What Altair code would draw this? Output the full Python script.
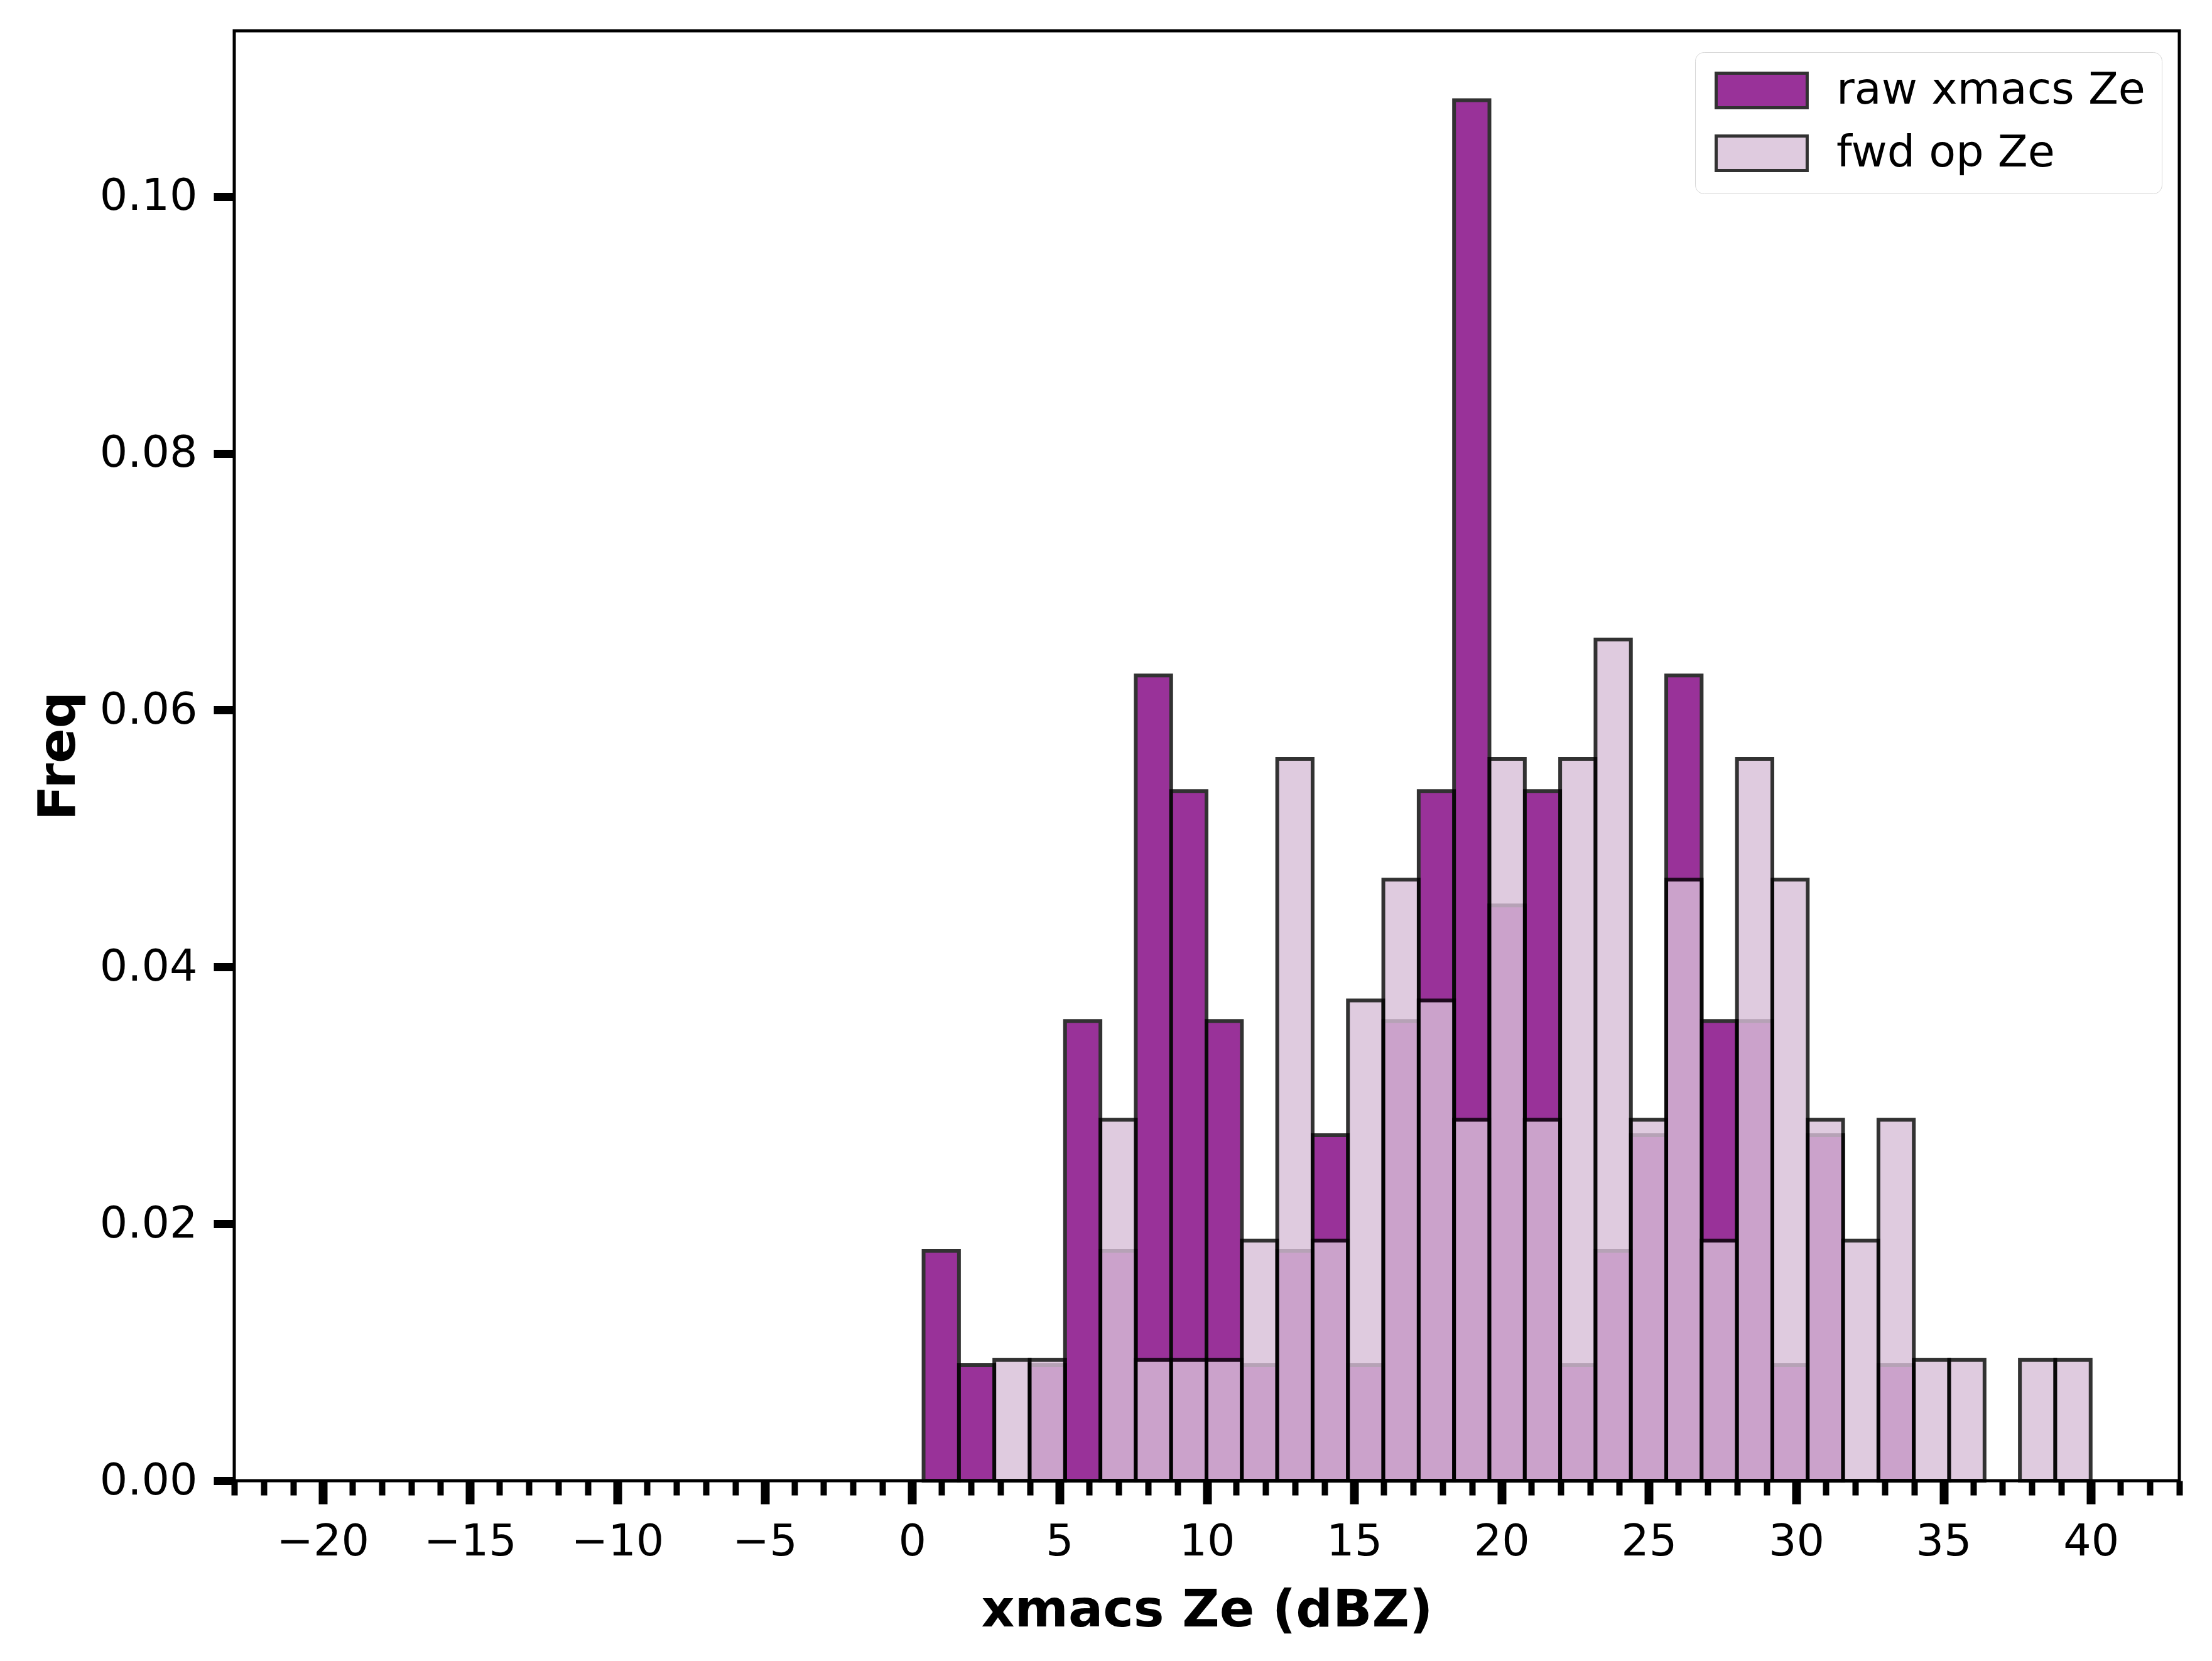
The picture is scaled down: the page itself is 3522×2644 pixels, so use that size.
import altair as alt
import pandas as pd

# bin edges (dBZ)
bin_edges = [0.39, 1.59, 2.79, 3.99, 5.19, 6.39, 7.59, 8.79, 9.99, 11.19, 12.39,
             13.59, 14.79, 15.99, 17.19, 18.39, 19.59, 20.79, 21.99, 23.19, 24.39,
             25.59, 26.79, 27.99, 29.19, 30.39, 31.59, 32.79, 33.99, 35.19, 36.39,
             37.59, 38.79, 39.99]

raw_freq = [0.0179, 0.0090, 0.0, 0.0090, 0.0358, 0.0179, 0.0627, 0.0537, 0.0358,
            0.0090, 0.0179, 0.0269, 0.0090, 0.0358, 0.0537, 0.1075, 0.0448, 0.0537,
            0.0090, 0.0179, 0.0269, 0.0627, 0.0358, 0.0358, 0.0090, 0.0269, 0.0,
            0.0090, 0.0, 0.0, 0.0, 0.0, 0.0]

fwd_freq = [0.0, 0.0, 0.0094, 0.0094, 0.0, 0.0281, 0.0094, 0.0094, 0.0094, 0.0187,
            0.0562, 0.0187, 0.0374, 0.0468, 0.0374, 0.0281, 0.0562, 0.0281, 0.0562,
            0.0655, 0.0281, 0.0468, 0.0187, 0.0562, 0.0468, 0.0281, 0.0187, 0.0281,
            0.0094, 0.0094, 0.0, 0.0094, 0.0094]

series_names = ["raw xmacs Ze", "fwd op Ze"]
series_colors = ["purple", "thistle"]

y_ticks = [0.0, 0.02, 0.04, 0.06, 0.08, 0.10]
x_ticks = list(range(-23, 44))

rows = []
for name, freqs in zip(series_names, [raw_freq, fwd_freq]):
    for i, f in enumerate(freqs):
        if f > 0:
            rows.append({"series": name, "lo": bin_edges[i], "hi": bin_edges[i + 1], "freq": f})
df = pd.DataFrame(rows)

FONT = "DejaVu Sans"

color = alt.Color(
    "series:N",
    scale=alt.Scale(domain=series_names, range=series_colors),
    legend=alt.Legend(
        title=None,
        orient="none",
        legendX=2326,
        legendY=34,
        labelFontSize=70,
        labelFont=FONT,
        labelColor="black",
        symbolType="M-1,-1H4.27V1H-1Z",
        symbolSize=3025,
        symbolStrokeColor="black",
        symbolStrokeWidth=5,
        symbolOpacity=0.8,
        labelOffset=129,
        rowPadding=24,
        padding=26,
        fillColor="white",
        strokeColor="#d6d6d6",
        cornerRadius=14,
        labelLimit=1000,
    ),
)

x_enc = alt.X(
    "lo:Q",
    scale=alt.Scale(domain=[-23, 43], nice=False, zero=False),
    axis=alt.Axis(
        title="xmacs Ze (dBZ)",
        values=x_ticks,
        labelExpr="datum.value % 5 === 0 ? datum.label : ''",
        tickSize={"condition": {"test": "datum.value % 5 === 0", "value": 37}, "value": 23},
        tickWidth={"condition": {"test": "datum.value % 5 === 0", "value": 14}, "value": 10},
        labelPadding=26,
        labelFlush=False,
        labelOverlap=False,
        titlePadding=34,
        grid=False,
        domain=False,
    ),
)

y_enc = alt.Y(
    "freq:Q",
    scale=alt.Scale(domain=[0, 0.1129], nice=False),
    axis=alt.Axis(
        title="Freq",
        values=y_ticks,
        format=".2f",
        tickSize=33,
        tickWidth=13,
        labelPadding=26,
        titlePadding=38,
        grid=False,
        domain=False,
    ),
)

base = alt.Chart(df)

raw_layer = base.transform_filter(alt.datum.series == series_names[0]).mark_bar(
    opacity=0.8, stroke="black", strokeWidth=6
).encode(x=x_enc, x2="hi:Q", y=y_enc, y2=alt.datum(0), color=color)

fwd_layer = base.transform_filter(alt.datum.series == series_names[1]).mark_bar(
    opacity=0.8, stroke="black", strokeWidth=6
).encode(x=x_enc, x2="hi:Q", y=y_enc, y2=alt.datum(0), color=color)

chart = alt.layer(raw_layer, fwd_layer).properties(
    width=3097,
    height=2308,
    background="white",
    autosize=alt.AutoSizeParams(type="none"),
    padding={"left": 365, "top": 41, "right": 44, "bottom": 280},
).configure_view(
    stroke="black", strokeWidth=5
).configure_axis(
    labelFont=FONT,
    labelFontSize=70,
    labelColor="black",
    tickColor="black",
    titleFont=FONT,
    titleFontSize=82,
    titleFontWeight="bold",
    titleColor="black",
)

chart.save("out.html", embed_options={"renderer": "svg", "actions": False})
